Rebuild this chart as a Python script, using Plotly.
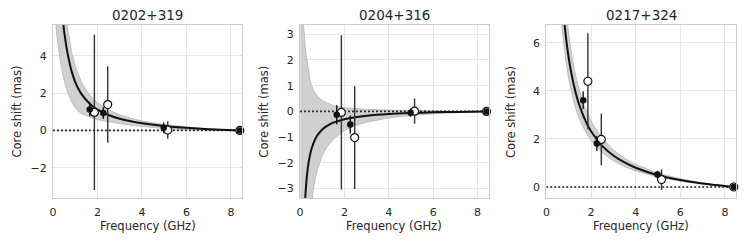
import plotly.graph_objects as go

# ---------------- data ----------------
TITLES = ["0202+319", "0204+316", "0217+324"]

FREQ_FILLED = [1.65, 2.26, 4.98, 8.4]
FREQ_OPEN = [1.86, 2.46, 5.16, 8.4]

# panel 1 : 0202+319
P1_FILLED_Y = [1.13, 0.94, 0.14, 0.0]
P1_FILLED_ERR = [0.37, 0.31, 0.29, 0.0]
P1_OPEN_Y = [0.97, 1.39, 0.02, 0.0]
P1_OPEN_ERR = [4.17, 2.05, 0.47, 0.0]
P1_FIT_X = [0.40, 0.45, 0.50, 0.55, 0.60, 0.69, 0.80, 0.90, 1.00, 1.15, 1.30, 1.50, 1.75, 2.00, 2.50, 3.00, 3.50, 4.00, 5.00, 6.00, 7.00, 8.40]
P1_FIT_Y = [6.60, 5.90, 5.30, 4.90, 4.50, 3.92, 3.34, 2.93, 2.60, 2.21, 1.92, 1.62, 1.33, 1.12, 0.83, 0.63, 0.49, 0.39, 0.24, 0.14, 0.07, 0.0]
P1_BAND_X = [0.10, 0.13, 0.16, 0.20, 0.25, 0.31, 0.38, 0.45, 0.55, 0.65, 0.75, 0.85, 1.00, 1.15, 1.30, 1.50, 1.75, 2.00, 2.50, 3.00, 3.50, 4.00, 5.00, 6.00, 7.00, 8.40]
P1_BAND_LO = [6.3, 5.65, 5.2, 4.75, 4.3, 3.86, 3.35, 2.9, 2.45, 2.07, 1.75, 1.5, 1.2, 1.02, 0.9, 0.78, 0.67, 0.58, 0.46, 0.37, 0.28, 0.2, 0.1, 0.05, 0.02, 0.0]
P1_BAND_HI = [38.5, 29.5, 23.9, 19.0, 15.1, 12.1, 9.8, 8.2, 6.63, 5.54, 4.74, 4.12, 3.44, 2.93, 2.54, 2.14, 1.76, 1.49, 1.10, 0.84, 0.65, 0.51, 0.32, 0.19, 0.093, 0.0]

# panel 2 : 0204+316
P2_FILLED_Y = [-0.13, -0.51, -0.05, 0.0]
P2_FILLED_ERR = [0.37, 0.35, 0.16, 0.0]
P2_OPEN_Y = [-0.04, -1.02, 0.01, 0.0]
P2_OPEN_ERR = [3.0, 2.0, 0.49, 0.0]
P2_FIT_X = [0.20, 0.22, 0.25, 0.30, 0.35, 0.40, 0.50, 0.60, 0.70, 0.80, 1.00, 1.25, 1.50, 2.00, 2.50, 3.00, 4.00, 5.00, 6.00, 7.00, 8.40]
P2_FIT_Y = [-3.90, -3.54, -3.11, -2.57, -2.19, -1.90, -1.50, -1.24, -1.05, -0.905, -0.705, -0.545, -0.438, -0.305, -0.225, -0.172, -0.105, -0.065, -0.038, -0.019, 0.0]
P2_BAND_X = [0.0, 0.05, 0.10, 0.15, 0.20, 0.25, 0.30, 0.35, 0.40, 0.45, 0.50, 0.55, 0.60, 0.70, 0.80, 1.00, 1.20, 1.50, 2.00, 2.50, 3.00, 4.00, 5.00, 6.00, 7.00, 8.40]
P2_BAND_LO = [-40.0, -37.0, -19.3, -12.8, -9.5, -7.57, -6.27, -5.34, -4.64, -4.10, -3.67, -3.31, -3.02, -2.55, -2.21, -1.72, -1.39, -1.07, -0.74, -0.55, -0.42, -0.255, -0.158, -0.093, -0.047, 0.0]
P2_BAND_HI = [12.0, 8.0, 4.5, 3.4, 2.75, 2.35, 2.05, 1.72, 1.45, 1.23, 1.05, 0.92, 0.82, 0.69, 0.57, 0.42, 0.33, 0.22, 0.14, 0.10, 0.08, 0.05, 0.03, 0.015, 0.007, 0.0]

# panel 3 : 0217+324
P3_FILLED_Y = [3.61, 1.81, 0.52, 0.0]
P3_FILLED_ERR = [0.36, 0.30, 0.16, 0.0]
P3_OPEN_Y = [4.40, 1.98, 0.31, 0.0]
P3_OPEN_ERR = [2.0, 1.07, 0.43, 0.0]
P3_FIT_X = [0.75, 0.80, 0.85, 0.90, 1.00, 1.10, 1.25, 1.40, 1.60, 1.80, 2.00, 2.50, 3.00, 3.50, 4.00, 5.00, 6.00, 7.00, 8.40]
P3_FIT_Y = [7.41, 6.90, 6.45, 6.05, 5.37, 4.82, 4.16, 3.63, 3.09, 2.66, 2.32, 1.71, 1.31, 1.02, 0.80, 0.49, 0.29, 0.146, 0.0]
P3_BAND_X = [0.60, 0.65, 0.70, 0.75, 0.80, 0.85, 0.90, 1.00, 1.10, 1.25, 1.40, 1.60, 1.80, 2.00, 2.50, 3.00, 3.50, 4.00, 5.00, 6.00, 7.00, 8.40]
P3_BAND_LO = [7.89, 7.24, 6.68, 6.19, 5.77, 5.39, 5.06, 4.49, 4.03, 3.47, 3.04, 2.58, 2.23, 1.94, 1.43, 1.09, 0.85, 0.67, 0.41, 0.24, 0.12, 0.0]
P3_BAND_HI = [11.14, 10.22, 9.43, 8.74, 8.14, 7.61, 7.14, 6.34, 5.69, 4.90, 4.29, 3.64, 3.14, 2.74, 2.02, 1.54, 1.20, 0.94, 0.58, 0.34, 0.17, 0.0]

X_RANGE = [0, 8.5]
Y_RANGES = [[-3.64, 5.66], [-3.38, 3.36], [-0.47, 6.74]]
X_TICKS = [0, 2, 4, 6, 8]
Y_TICKS = [[-2, 0, 2, 4], [-3, -2, -1, 0, 1, 2, 3], [0, 2, 4, 6]]
X_LABEL = "Frequency (GHz)"
Y_LABEL = "Core shift (mas)"

panels = [
    (P1_FILLED_Y, P1_FILLED_ERR, P1_OPEN_Y, P1_OPEN_ERR, P1_FIT_X, P1_FIT_Y, P1_BAND_X, P1_BAND_LO, P1_BAND_HI),
    (P2_FILLED_Y, P2_FILLED_ERR, P2_OPEN_Y, P2_OPEN_ERR, P2_FIT_X, P2_FIT_Y, P2_BAND_X, P2_BAND_LO, P2_BAND_HI),
    (P3_FILLED_Y, P3_FILLED_ERR, P3_OPEN_Y, P3_OPEN_ERR, P3_FIT_X, P3_FIT_Y, P3_BAND_X, P3_BAND_LO, P3_BAND_HI),
]

# ---------------- layout geometry ----------------
W, H = 748, 242
X_DOMAINS = [[49.3 / W, 239.3 / W], [297.7 / W, 487.3 / W], [545.3 / W, 736.0 / W]]
Y_DOMAIN = [(H - 198.3) / H, (H - 25.0) / H]

FONT = "DejaVu Sans"
TXT = "#262626"
GRID = "#e6e6e6"
SPINE = "#cccccc"

fig = go.Figure()
annotations = []

for i, (fy, fe, oy, oe, fitx, fity, bx, blo, bhi) in enumerate(panels):
    xa = "x" if i == 0 else f"x{i+1}"
    ya = "y" if i == 0 else f"y{i+1}"

    # uncertainty band
    fig.add_trace(go.Scatter(
        x=list(bx) + list(bx)[::-1], y=list(bhi) + list(blo)[::-1],
        fill="toself", fillcolor="#d0d0d0", mode="lines",
        line=dict(color="#b4b4b4", width=0.8),
        xaxis=xa, yaxis=ya, showlegend=False, hoverinfo="skip"))
    # zero reference
    fig.add_trace(go.Scatter(
        x=[0, FREQ_FILLED[-1]], y=[0, 0], mode="lines",
        line=dict(color="#111111", width=1.7, dash="1.7px,2.3px"),
        xaxis=xa, yaxis=ya, showlegend=False, hoverinfo="skip"))
    # fit
    fig.add_trace(go.Scatter(
        x=fitx, y=fity, mode="lines", line=dict(color="#111111", width=2, shape="spline", smoothing=0.8),
        xaxis=xa, yaxis=ya, showlegend=False))
    # open points
    fig.add_trace(go.Scatter(
        x=FREQ_OPEN, y=oy, mode="markers",
        marker=dict(symbol="circle", size=8, color="white", line=dict(color="#111111", width=1.2)),
        error_y=dict(type="data", array=oe, visible=True, color="#333333", thickness=1.4, width=0),
        xaxis=xa, yaxis=ya, showlegend=False, cliponaxis=False))
    # filled points
    fig.add_trace(go.Scatter(
        x=FREQ_FILLED, y=fy, mode="markers",
        marker=dict(symbol="circle", size=6.5, color="#111111"),
        error_y=dict(type="data", array=fe, visible=True, color="#111111", thickness=1.4, width=0),
        xaxis=xa, yaxis=ya, showlegend=False, cliponaxis=False))

    axis_common = dict(showline=True, mirror=True, linecolor=SPINE, linewidth=1.2,
                       showgrid=True, gridcolor=GRID, gridwidth=1, zeroline=False,
                       ticks="outside", ticklen=3, tickcolor="rgba(0,0,0,0)",
                       tickfont=dict(family=FONT, size=11, color=TXT))
    fig.layout[f"xaxis{'' if i == 0 else i+1}"] = dict(
        domain=X_DOMAINS[i], range=X_RANGE, tickvals=X_TICKS, anchor=ya, **axis_common)
    fig.layout[f"yaxis{'' if i == 0 else i+1}"] = dict(
        domain=Y_DOMAIN, range=Y_RANGES[i], tickvals=Y_TICKS[i], anchor=xa,
        tickformat="d", **axis_common)

    cx = (X_DOMAINS[i][0] + X_DOMAINS[i][1]) / 2
    annotations.append(dict(text=TITLES[i], x=cx, y=1 - 14.7 / H, xref="paper", yref="paper",
                            showarrow=False, xanchor="center", yanchor="middle",
                            font=dict(family=FONT, size=13.5, color=TXT)))
    annotations.append(dict(text=X_LABEL, x=cx, y=1 - 226.0 / H, xref="paper", yref="paper",
                            showarrow=False, xanchor="center", yanchor="middle",
                            font=dict(family=FONT, size=11.5, color=TXT)))
    annotations.append(dict(text=Y_LABEL, x=X_DOMAINS[i][0] - 36.3 / W, y=(Y_DOMAIN[0] + Y_DOMAIN[1]) / 2,
                            xref="paper", yref="paper", textangle=-90,
                            showarrow=False, xanchor="center", yanchor="middle",
                            font=dict(family=FONT, size=11.5, color=TXT)))

fig.update_layout(
    width=W, height=H, margin=dict(l=0, r=0, t=0, b=0),
    paper_bgcolor="white", plot_bgcolor="white",
    annotations=annotations, showlegend=False,
    font=dict(family=FONT, color=TXT),
)

fig.write_html("out.html", config={"displayModeBar": False},
               post_script="document.body.style.margin='0';document.body.style.padding='0';document.body.style.overflow='hidden';")
